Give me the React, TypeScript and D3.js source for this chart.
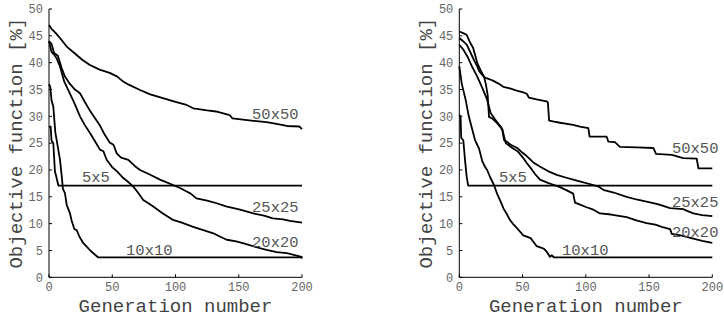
import React from "react";
import * as d3 from "d3";

type Pt = [number, number];

// ---------- Left panel series: [generation, objective %] ----------
const L_50x50: Pt[] = [[0,47],[2,46.3],[5,45.6],[9,44.5],[14,43],[20,41.8],[26,40.6],[32,39.6],[40,38.7],[48,38.1],[54,37.4],[58,36.6],[63,35.9],[72,34.9],[80,34.1],[90,33.4],[100,32.7],[108,32.2],[114,31.5],[125,31.1],[132,30.9],[140,30.4],[143,30.2],[145,29.6],[160,29.2],[172,28.9],[182,28.5],[188,28.2],[198,28.1],[200,27.6]];
const L_25x25: Pt[] = [[0,44],[2,43.5],[4,41.8],[7,41.3],[10,39],[12.6,37.4],[16,36.2],[20,35.1],[24.5,34.3],[28,32.8],[32,31.2],[36,29.8],[40,28.4],[44,26.6],[48,25.1],[51,24.7],[53.5,23.1],[57,22.3],[62.7,21.9],[68,20.7],[72,20],[80,19.1],[87.7,18.2],[94,17.6],[98,17.2],[104,16.6],[108.8,16],[112,15.6],[116.6,14.7],[125,14.3],[132.5,13.8],[140,13.2],[151,12.6],[156,12.3],[161.5,11.9],[170,11.5],[177,11],[185,10.8],[190.5,10.5],[200,10.2]];
const L_20x20: Pt[] = [[0,44],[2,42],[4,41.5],[6,40.8],[8.7,39.3],[12,36.5],[16,34.5],[20,32.5],[24.5,30],[28,28.5],[32.4,26.9],[36,25.5],[40.3,23.8],[43,23.5],[45.6,21.9],[50,20.5],[54,19.7],[58.7,18.5],[62,17.9],[66.6,16.9],[70,15.9],[74.5,14.4],[78,13.9],[82.4,13.2],[90,11.9],[98,10.7],[105,10.2],[114,9.4],[122,8.8],[129.9,8.2],[135,7.6],[140.5,7],[148,6.7],[156,6.2],[164,5.6],[172,5.1],[180,4.7],[188,4.5],[195,4.1],[199.7,3.8],[200,3.5]];
const L_10x10: Pt[] = [[0,36],[1,35.5],[2,33],[3.4,31.8],[5,27],[7.4,23.7],[8.7,21.9],[10,19],[11,16.5],[12.6,15.7],[14,13.5],[16.6,11.9],[18,10.5],[20,9],[21.9,8.8],[24,7.6],[27,6.4],[29.8,5.7],[33,4.9],[36.4,4.2],[39,3.7],[200,3.7]];
const L_5x5: Pt[] = [[0,28],[1.3,28.1],[2,25.5],[3.4,25],[4.7,19.7],[5.5,19],[7.4,17.1],[200,17.1]];

// ---------- Right panel series ----------
const R_50x50: Pt[] = [[0,44.6],[3,44],[6,43.3],[9,41.8],[12,40.3],[14.2,39.3],[16,38.3],[18.2,37.7],[20.3,37.2],[24,36.9],[27,36.6],[31,36.1],[34.8,35.5],[40,35.2],[45.4,34.8],[50,34.5],[53.3,34.2],[55,33.5],[62,33.1],[69,32.8],[70,32.6],[71,29.2],[75,29],[79.6,28.8],[90,28.4],[95.4,28.1],[102,27.8],[103,26.2],[116.5,26.2],[117.8,25.3],[123,25.2],[127,24.3],[140,24.2],[153.4,24.1],[155.5,23],[168,22.8],[177,22.2],[187.7,22.1],[189,20.3],[200,20.3]];
const R_25x25: Pt[] = [[0,45.8],[3,45.5],[5.8,45.2],[8,44],[11,42.7],[13,41],[14.2,39.9],[17,38.5],[19.5,37.4],[21,36],[22.4,34],[23.5,29.9],[26,29.6],[30,28.7],[34,27.5],[35.3,25.6],[38,25.2],[40.6,24.7],[45.8,24.1],[50,23.2],[53.3,22.6],[58.5,21.4],[64,20.6],[70,19.8],[77,19.1],[84,18.6],[90,18.2],[98,17.7],[106,17.2],[110,16.9],[113.8,16.3],[122,15.8],[132.3,15],[140,14.5],[148,14.1],[156,13.7],[160,13.4],[166.6,12.9],[177,12.7],[181,12.3],[185,11.9],[192,11.6],[200,11.4]];
const R_20x20: Pt[] = [[0,43.3],[3,42.5],[6.3,41.2],[10,39.3],[14.2,37.4],[18,35.4],[22,33.1],[24.8,30.6],[28,29.5],[32.7,28.1],[34,27.6],[36.7,25],[39,24.6],[41.9,24.1],[46,23.5],[50,22.4],[53.3,21.3],[57,20.2],[60,19.2],[63.8,18.2],[70,17.6],[75,17.2],[79.6,16.8],[85,16.2],[90,15.6],[91.5,13.9],[96,13.5],[100,13.1],[106,12.6],[111.2,11.9],[120,11.7],[132.3,11.2],[140,10.6],[148,10.1],[155,9.8],[160,9.4],[166.6,9],[168,8.1],[175,7.8],[185,7.2],[192,6.8],[200,6.4]];
const R_10x10: Pt[] = [[0,39.3],[2,36],[5,33.1],[7.5,30],[10.3,27.5],[12.5,25.5],[14.2,24.7],[15.6,24],[18.2,21.6],[20.3,20.6],[22,20],[24.5,18.6],[27.4,17.2],[30,15.5],[32.7,14.1],[35,12.8],[38,11.6],[40,10.7],[43,9.8],[45.8,9.1],[50.6,7.8],[56.4,7.3],[61.2,5.8],[65,5.5],[67,5.3],[69,4.8],[71.7,3.8],[73,4.1],[75,3.7],[200,3.7]];
const R_5x5: Pt[] = [[0,30.3],[1,30],[1.5,26],[3.2,25.5],[3.7,24.1],[4.5,21.9],[5.8,18.8],[7,17.1],[200,17.1]];

// ---------- Labels: text with anchor (generation, value) ----------
const SERIES_NAMES = ["50x50", "25x25", "20x20", "10x10", "5x5"];
const L_LABEL_AT: Pt[] = [[160.5,29.5],[160.5,12.2],[160.5,5.65],[60.9,4.16],[26,17.8]];
const R_LABEL_AT: Pt[] = [[168.1,23.2],[168.1,13.1],[168.1,7.5],[81.2,4.16],[31.4,17.8]];

const X_DOMAIN: [number, number] = [0, 200];
const Y_DOMAIN: [number, number] = [0, 50];
const X_TITLE = "Generation number";
const Y_TITLE = "Objective function [%]";

const FONT = "'Liberation Mono', 'DejaVu Sans Mono', monospace";

function Panel({ x0, x1, yTitleX, series, labels }: { x0: number; x1: number; yTitleX: number; series: Pt[][]; labels: Pt[] }) {
  const top = 9;
  const bottom = 277.3;
  const x = d3.scaleLinear().domain(X_DOMAIN).range([x0, x1]);
  const y = d3.scaleLinear().domain(Y_DOMAIN).range([bottom, top]);
  const line = d3.line<Pt>().x((d) => x(d[0])).y((d) => y(d[1]));
  const yTicks = y.ticks(10);
  const xTicks = x.ticks(4);
  return (
    <g>
      {series.map((s, i) => (
        <path key={i} d={line(s) || ""} fill="none" stroke="#000" strokeWidth={1.8} strokeLinejoin="round" />
      ))}
      <line x1={x0} x2={x0} y1={top} y2={bottom} stroke="#000" strokeWidth={1} />
      <line x1={x0} x2={x1} y1={bottom} y2={bottom} stroke="#000" strokeWidth={1} />
      {yTicks.map((t) => (
        <g key={"y" + t}>
          <line x1={x0} x2={x0 + 3} y1={y(t)} y2={y(t)} stroke="#000" strokeWidth={1} />
          <text x={x0 - 6} y={y(t)} dy="0.35em" textAnchor="end" fontFamily={FONT} fontSize={12} fill="#666">{t}</text>
        </g>
      ))}
      {xTicks.map((t) => (
        <g key={"x" + t}>
          <line x1={x(t)} x2={x(t)} y1={bottom} y2={bottom - 3} stroke="#000" strokeWidth={1} />
          <text x={x(t)} y={bottom + 13.5} textAnchor="middle" fontFamily={FONT} fontSize={12} fill="#666">{t}</text>
        </g>
      ))}
      <text x={(x0 + x1) / 2} y={312} textAnchor="middle" fontFamily={FONT} fontSize={19} fill="#444">{X_TITLE}</text>
      <text transform={`translate(${yTitleX},${(top + bottom) / 2}) rotate(-90)`} textAnchor="middle" dy="0.35em" fontFamily={FONT} fontSize={19} fill="#444">{Y_TITLE}</text>
      {labels.map((p, i) => (
        <text key={"l" + i} x={x(p[0])} y={y(p[1])} fontFamily={FONT} fontSize={15.5} fill="#555">{SERIES_NAMES[i]}</text>
      ))}
    </g>
  );
}

export default function App() {
  return (
    <svg width={724} height={320} style={{ position: "absolute", left: 0, top: 0, background: "#fff" }}>
      <rect width={724} height={320} fill="#fff" />
      <Panel x0={49} x1={302} yTitleX={15} series={[L_50x50, L_25x25, L_20x20, L_10x10, L_5x5]} labels={L_LABEL_AT} />
      <Panel x0={459.3} x1={712.3} yTitleX={425} series={[R_50x50, R_25x25, R_20x20, R_10x10, R_5x5]} labels={R_LABEL_AT} />
    </svg>
  );
}
